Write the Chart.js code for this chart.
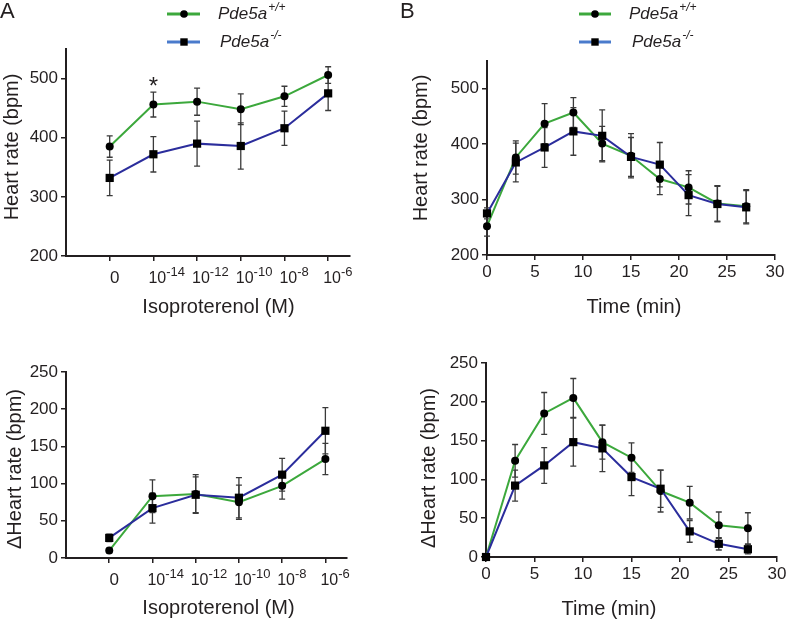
<!DOCTYPE html>
<html>
<head>
<meta charset="utf-8">
<script src="https://cdn.jsdelivr.net/npm/chart.js@4"></script>
<style>
  body { margin: 0; background: #fff; }
  canvas { position: absolute; }
</style>
</head>
<body>
<canvas id="aTop" width="394" height="320" style="left:0;top:0"></canvas>
<canvas id="bTop" width="394" height="320" style="left:394px;top:0"></canvas>
<canvas id="aBot" width="394" height="302" style="left:0;top:320px"></canvas>
<canvas id="bBot" width="394" height="302" style="left:394px;top:320px"></canvas>
<script>
// x categories
const dosePos = [1, 2, 3, 4, 5, 6];
const doseBase = ['0', '10', '10', '10', '10', '10'];
const doseExp = ['', '-14', '-12', '-10', '-8', '-6'];
const timeMin = [0, 3, 6, 9, 12, 15, 18, 21, 24, 27];

// tick labels
const hrTicks = [200, 300, 400, 500];
const dhrTicks = [0, 50, 100, 150, 200, 250];
const timeTicks = [0, 5, 10, 15, 20, 25, 30];

// A top: heart rate vs isoproterenol
const doseHrWT = [385, 456, 461, 448, 470, 506];
const doseHrWTErr = [18, 21, 23, 26, 17, 14];
const doseHrKO = [332, 372, 390, 386, 416, 475];
const doseHrKOErr = [30, 30, 38, 39, 29, 29];

// A bottom: delta heart rate vs isoproterenol
const doseDhrWT = [10, 83, 86, 75, 97, 133];
const doseDhrWTErr = [3, 22, 26, 23, 18, 21];
const doseDhrKO = [27, 67, 85, 81, 112, 171];
const doseDhrKOErr = [5, 20, 24, 27, 22, 31];

// B top: heart rate vs time
const timeHrWT = [252, 376, 437, 457, 401, 379, 337, 322, 293, 288];
const timeHrWTErr = [18, 30, 36, 27, 31, 40, 28, 30, 32, 30];
const timeHrKO = [275, 367, 394, 423, 415, 377, 363, 308, 292, 286];
const timeHrKOErr = [10, 35, 36, 43, 47, 35, 40, 37, 32, 30];

// B bottom: delta heart rate vs time
const timeDhrWT = [0, 124, 185, 205, 148, 128, 85, 70, 41, 37];
const timeDhrWTErr = [0, 21, 27, 25, 22, 19, 27, 21, 17, 20];
const timeDhrKO = [0, 92, 118, 148, 140, 103, 88, 33, 17, 10];
const timeDhrKOErr = [0, 20, 23, 31, 30, 24, 24, 14, 8, 6];

const green = '#3ca83c';
const blue = '#2b2d9c';
const legendBlue = '#4a7bcc';
const ink = '#231f20';
const fam = '"Liberation Sans", Arial, sans-serif';

// error bars, superscript tick labels, titles and legend
const extras = {
  id: 'extras',
  beforeDatasetsDraw(chart) {
    const ctx = chart.ctx, xs = chart.scales.x, ys = chart.scales.y;
    ctx.save();
    ctx.strokeStyle = '#3a3a3a';
    ctx.lineWidth = 1.3;
    chart.data.datasets.forEach(ds => {
      ds.data.forEach((p, i) => {
        const e = ds.errors[i];
        if (!e) return;
        const x = xs.getPixelForValue(p.x);
        const y1 = ys.getPixelForValue(p.y + e);
        const y2 = ys.getPixelForValue(p.y - e);
        ctx.beginPath();
        ctx.moveTo(x, y1); ctx.lineTo(x, y2);
        ctx.moveTo(x - 3, y1); ctx.lineTo(x + 3, y1);
        ctx.moveTo(x - 3, y2); ctx.lineTo(x + 3, y2);
        ctx.stroke();
      });
    });
    ctx.restore();
  },
  afterDraw(chart, args, opts) {
    const ctx = chart.ctx, xs = chart.scales.x, ys = chart.scales.y;
    ctx.save();
    ctx.fillStyle = ink;

    if (opts.doseLabels) {
      const base = ys.bottom + 26.5;
      dosePos.forEach((v, i) => {
        const x = xs.getPixelForValue(v);
        ctx.textBaseline = 'alphabetic';
        if (!doseExp[i]) {
          ctx.font = '17px ' + fam;
          ctx.textAlign = 'center';
          ctx.fillText(doseBase[i], x + 5, base);
          return;
        }
        ctx.textAlign = 'left';
        ctx.font = '16px ' + fam;
        ctx.fillText(doseBase[i], x - 5, base);
        const w = ctx.measureText(doseBase[i]).width;
        ctx.font = '13px ' + fam;
        ctx.fillText(doseExp[i], x - 5 + w, base - 6.5);
      });
    }

    (opts.texts || []).forEach(t => {
      ctx.save();
      ctx.font = t.font;
      ctx.textAlign = t.align || 'center';
      ctx.textBaseline = t.baseline || 'middle';
      ctx.translate(t.x, t.y);
      if (t.rot) ctx.rotate(-Math.PI / 2);
      ctx.fillText(t.t, 0, 0);
      ctx.restore();
    });

    if (opts.star) {
      ctx.font = '24px ' + fam;
      ctx.textAlign = 'center';
      ctx.textBaseline = 'alphabetic';
      ctx.fillText('*', xs.getPixelForValue(opts.star.x), ys.getPixelForValue(opts.star.y) + 14);
    }

    if (opts.legend) {
      const L = opts.legend;
      const items = [
        { c: green, s: 'circle', sup: '+/+', y: L.y[0], xt: L.xt[0] },
        { c: legendBlue, s: 'rect', sup: '-/-', y: L.y[1], xt: L.xt[1] }
      ];
      items.forEach(it => {
        ctx.strokeStyle = it.c;
        ctx.lineWidth = 3;
        ctx.beginPath();
        ctx.moveTo(L.x0, it.y); ctx.lineTo(L.x1, it.y);
        ctx.stroke();
        ctx.fillStyle = '#000';
        ctx.beginPath();
        if (it.s === 'circle') ctx.arc(L.xm, it.y, 3.8, 0, Math.PI * 2);
        else ctx.rect(L.xm - 3.7, it.y - 3.7, 7.4, 7.4);
        ctx.fill();
        ctx.fillStyle = ink;
        ctx.textAlign = 'left';
        ctx.textBaseline = 'middle';
        ctx.font = 'italic 17px ' + fam;
        ctx.fillText('Pde5a', it.xt, it.y);
        const w = ctx.measureText('Pde5a').width;
        ctx.font = 'italic 12px ' + fam;
        ctx.fillText(it.sup, it.xt + w + 1, it.y - 6);
      });
    }
    ctx.restore();
  }
};

function makeChart(id, o) {
  const axisLine = { display: true, color: ink, width: 2 };
  const grid = { drawOnChartArea: false, drawTicks: true, tickLength: 5, color: ink, lineWidth: 1.5 };
  return new Chart(document.getElementById(id), {
    type: 'line',
    data: {
      datasets: [
        {
          label: 'Pde5a+/+',
          data: o.x.map((x, i) => ({ x: x, y: o.wt[i] })),
          errors: o.wtErr,
          borderColor: green, borderWidth: 2, tension: 0,
          pointStyle: 'circle', pointRadius: 4,
          pointBackgroundColor: '#000', pointBorderColor: '#000', pointBorderWidth: 0,
          order: 1, clip: false
        },
        {
          label: 'Pde5a-/-',
          data: o.x.map((x, i) => ({ x: x, y: o.ko[i] })),
          errors: o.koErr,
          borderColor: blue, borderWidth: 2, tension: 0,
          pointStyle: 'rect', pointRadius: 5.8,
          pointBackgroundColor: '#000', pointBorderColor: '#000', pointBorderWidth: 0,
          order: 0, clip: false
        }
      ]
    },
    options: {
      responsive: false,
      animation: false,
      events: [],
      layout: { padding: o.pad },
      plugins: { legend: { display: false }, tooltip: { enabled: false }, extras: o.extras },
      scales: {
        x: {
          type: 'linear', min: o.xMin, max: o.xMax,
          afterBuildTicks: s => { s.ticks = o.xTicks.map(v => ({ value: v })); },
          afterFit: s => { s.height = o.xH; s.paddingLeft = 0; s.paddingRight = 0; },
          grid: grid, border: axisLine,
          ticks: { display: o.xLabels, color: ink, font: { family: fam, size: 17 }, padding: 2, maxRotation: 0, autoSkip: false }
        },
        y: {
          type: 'linear', min: o.yMin, max: o.yMax,
          afterBuildTicks: s => { s.ticks = o.yTicks.map(v => ({ value: v })); },
          afterFit: s => { s.width = o.yW; s.paddingTop = 0; s.paddingBottom = 0; },
          grid: grid, border: axisLine,
          ticks: { color: ink, font: { family: fam, size: 17 }, padding: 3 }
        }
      }
    },
    plugins: [extras]
  });
}

const titleFont = '20px ' + fam;

makeChart('aTop', {
  x: dosePos, wt: doseHrWT, wtErr: doseHrWTErr, ko: doseHrKO, koErr: doseHrKOErr,
  xMin: 0, xMax: 6.5, xTicks: dosePos, xLabels: false, xH: 64,
  yMin: 200, yMax: 550, yTicks: hrTicks, yW: 66,
  pad: { left: 0, right: 44, top: 49, bottom: 0 },
  extras: {
    doseLabels: true,
    star: { x: 2, y: 498 },
    legend: { x0: 167, x1: 200, xm: 184, y: [14, 42], xt: [218, 220] },
    texts: [
      { t: 'A', x: 0, y: 18, font: '22px ' + fam, align: 'left', baseline: 'alphabetic' },
      { t: 'Isoproterenol (M)', x: 218.5, y: 307, font: titleFont },
      { t: 'Heart rate (bpm)', x: 12, y: 147, font: titleFont, rot: true }
    ]
  }
});

makeChart('aBot', {
  x: dosePos, wt: doseDhrWT, wtErr: doseDhrWTErr, ko: doseDhrKO, koErr: doseDhrKOErr,
  xMin: 0, xMax: 6.5, xTicks: dosePos, xLabels: false, xH: 64,
  yMin: 0, yMax: 250, yTicks: dhrTicks, yW: 66,
  pad: { left: 0, right: 47, top: 52, bottom: 0 },
  extras: {
    doseLabels: true,
    texts: [
      { t: 'Isoproterenol (M)', x: 218.5, y: 288, font: titleFont },
      { t: '\u0394Heart rate (bpm)', x: 15, y: 149, font: titleFont, rot: true }
    ]
  }
});

makeChart('bTop', {
  x: timeMin, wt: timeHrWT, wtErr: timeHrWTErr, ko: timeHrKO, koErr: timeHrKOErr,
  xMin: 0, xMax: 30, xTicks: timeTicks, xLabels: true, xH: 65,
  yMin: 200, yMax: 550, yTicks: hrTicks, yW: 93,
  pad: { left: 0, right: 13, top: 61, bottom: 0 },
  extras: {
    legend: { x0: 185, x1: 217, xm: 201, y: [14, 42], xt: [235, 238] },
    texts: [
      { t: 'B', x: 6, y: 18, font: '22px ' + fam, align: 'left', baseline: 'alphabetic' },
      { t: 'Time (min)', x: 240, y: 307, font: titleFont },
      { t: 'Heart rate (bpm)', x: 27.5, y: 148, font: titleFont, rot: true }
    ]
  }
});

makeChart('bBot', {
  x: timeMin, wt: timeDhrWT, wtErr: timeDhrWTErr, ko: timeDhrKO, koErr: timeDhrKOErr,
  xMin: 0, xMax: 30, xTicks: timeTicks, xLabels: true, xH: 65,
  yMin: 0, yMax: 250, yTicks: dhrTicks, yW: 92,
  pad: { left: 0, right: 11, top: 43, bottom: 0 },
  extras: {
    texts: [
      { t: 'Time (min)', x: 215, y: 289, font: titleFont },
      { t: '\u0394Heart rate (bpm)', x: 35, y: 148, font: titleFont, rot: true }
    ]
  }
});
</script>
</body>
</html>
